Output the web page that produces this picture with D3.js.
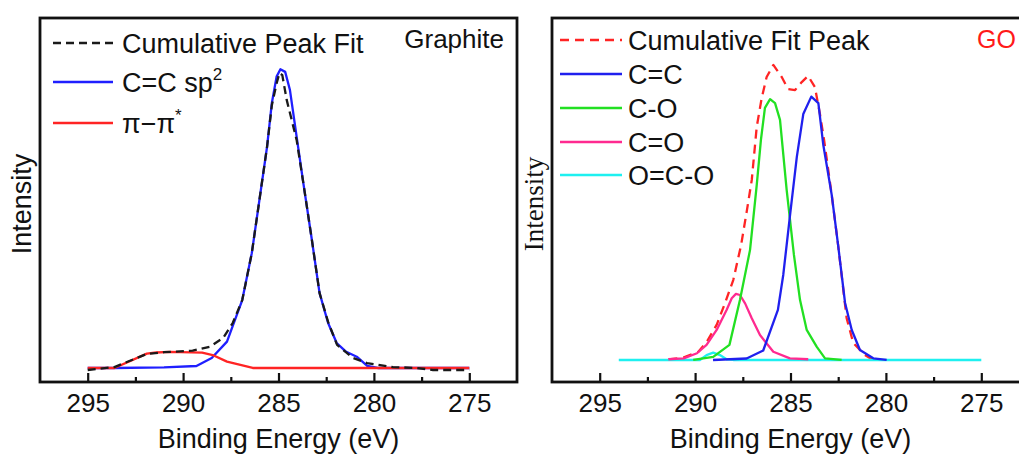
<!DOCTYPE html>
<html>
<head>
<meta charset="utf-8">
<script src="https://cdn.jsdelivr.net/npm/d3@7"></script>
<style>
  html, body { margin: 0; padding: 0; background: #fff; }
  svg { display: block; }
</style>
</head>
<body>
<div id="chart-xps"></div>
<script>
// ═══════════════════════════════════════════════
// XPS C1s fits — Graphite vs GO
// values, intensity in a.u.
// ═══════════════════════════════════════════════

// ── Axis ticks ───────────────────────────────
const MAJOR_TICKS = [295, 290, 285, 280, 275];
const MINOR_TICKS = [292.5, 287.5, 282.5, 277.5];

// ── Graphite panel [binding energy, intensity] ──
const GRAPHITE_CUMULATIVE = [
  [295.0,3.3],[293.6,4.1],[291.9,7.7],[291.0,8.2],[289.5,8.6],[288.6,9.7],
  [287.9,12.1],[287.4,16.2],[286.9,22.5],[286.4,35.4],[286.0,50.0],[285.6,64.6],
  [285.35,76.0],[285.1,82.0],[284.95,84.9],[284.8,84.3],[284.57,77.5],[284.05,66.5],
  [283.7,54.7],[283.25,39.0],[282.85,24.5],[282.4,16.5],[281.93,10.2],[281.1,6.6],
  [280.36,5.2],[279.0,4.1],[277.74,3.85],[276.9,3.3],[275.0,3.3]
];
const GRAPHITE_SP2 = [
  [295.0,3.85],[293.6,3.85],[291.0,4.0],[289.3,4.4],[288.5,6.6],[287.7,11.1],
  [286.9,22.5],[286.4,35.4],[286.0,50.0],[285.6,64.6],[285.35,76.6],[285.1,83.9],
  [284.9,85.9],[284.65,85.2],[284.4,80.2],[284.05,67.4],[283.7,54.7],[283.25,39.0],
  [282.85,24.5],[282.4,16.2],[281.95,10.7],[281.45,8.3],[280.9,6.95],[280.35,4.4],
  [279.8,3.85],[275.0,3.85]
];
const GRAPHITE_PIPI = [
  [295.0,3.85],[293.6,3.85],[291.9,7.8],[291.4,8.1],[290.7,8.25],[289.0,8.05],
  [288.45,7.4],[287.7,5.6],[286.35,3.85],[275.0,3.85]
];

// ── GO panel [binding energy, intensity] ─────
const GO_CUMULATIVE = [
  [291.4,6.2],[290.62,6.7],[289.83,8.3],[289.39,11.0],[288.87,15.7],[288.43,21.7],
  [288.0,28.0],[287.59,37.6],[287.28,47.3],[287.03,55.5],[286.77,70.1],[286.51,78.0],
  [286.25,83.8],[285.9,87.1],[285.46,83.8],[285.13,80.5],[284.76,80.2],[284.41,82.4],
  [284.08,84.1],[283.72,81.0],[283.45,73.4],[283.24,66.5],[282.84,51.4],[282.5,37.4],
  [282.06,17.6],[281.71,10.7],[281.1,7.4],[280.68,6.05]
];
const GO_CC = [
  [289.06,6.05],[287.3,6.45],[286.43,8.65],[285.66,19.8],[285.38,29.4],[285.03,45.6],
  [284.67,61.8],[284.33,73.6],[283.91,78.4],[283.54,76.6],[283.28,65.1],[282.84,51.4],
  [282.5,37.4],[282.14,21.7],[281.79,14.3],[281.36,8.8],[280.66,6.5],[279.96,6.05]
];
const GO_CO = [
  [290.1,6.05],[289.05,6.9],[288.2,10.2],[287.65,22.5],[287.12,36.3],[286.77,54.1],
  [286.55,66.5],[286.34,75.3],[286.07,77.7],[285.81,76.6],[285.55,72.0],[285.2,52.7],
  [284.82,34.9],[284.5,22.5],[284.15,14.3],[283.63,9.7],[283.19,6.5],[282.32,6.05]
];
const GO_C_DOUBLE_O = [
  [291.4,6.25],[290.6,6.5],[289.9,7.9],[289.4,10.2],[288.87,14.3],[288.35,19.8],
  [288.08,23.0],[287.86,24.2],[287.65,23.9],[287.38,21.6],[287.03,17.5],[286.6,12.9],
  [285.9,8.3],[285.03,6.5],[284.07,6.25]
];
const GO_OCO = [
  [294.0,6.05],[289.75,6.05],[289.4,7.4],[289.05,8.05],[288.7,7.4],[288.35,6.25],
  [288.0,6.05],[275.0,6.05]
];

const FONT = "'Liberation Sans', Arial, sans-serif";

const PANELS = [
  {
    left: 40, tag: "Graphite", tagColor: "#111", tagSize: 26, yFont: FONT,
    legendY: [43, 82, 123],
    series: [
      { name: "Cumulative Peak Fit", data: GRAPHITE_CUMULATIVE, color: "#1a1a1a", dash: "8,5" },
      { name: "C=C sp", sup: "2", data: GRAPHITE_SP2, color: "#1f1fff" },
      { name: "π−π", sup: "*", data: GRAPHITE_PIPI, color: "#ff2424" }
    ],
    drawOrder: [1, 2, 0],
    legendX: [53, 113, 122]
  },
  {
    left: 552, tag: "GO", tagColor: "#ff1a1a", tagSize: 25,
    yFont: "'Liberation Serif', 'Times New Roman', serif",
    legendY: [40, 74, 108, 142, 175],
    series: [
      { name: "Cumulative Fit Peak", data: GO_CUMULATIVE, color: "#ff2424", dash: "9,6" },
      { name: "C=C", data: GO_CC, color: "#2020ee" },
      { name: "C-O", data: GO_CO, color: "#22e022" },
      { name: "C=O", data: GO_C_DOUBLE_O, color: "#ff2a90" },
      { name: "O=C-O", data: GO_OCO, color: "#1ef0f0" }
    ],
    drawOrder: [0, 4, 3, 2, 1],
    legendX: [560, 622, 628]
  }
];

// ── Layout ───────────────────────────────────
const W = 1019, H = 455;
const frameW = 477, frameTop = 18, frameH = 364;

const svg = d3.select("#chart-xps").append("svg")
  .attr("width", W).attr("height", H);

PANELS.forEach(p => {
  const g = svg.append("g").attr("transform", `translate(${p.left},${frameTop})`);

  const x = d3.scaleLinear().domain([297.5, 272.5]).range([0, frameW]);
  const y = d3.scaleLinear().domain([0, 100]).range([frameH, 0]);

  const line = d3.line().x(d => x(d[0])).y(d => y(d[1]));

  // curves
  p.drawOrder.forEach(i => {
    const s = p.series[i];
    g.append("path").datum(s.data)
      .attr("d", line)
      .attr("fill", "none")
      .attr("stroke", s.color)
      .attr("stroke-width", 2.3)
      .attr("stroke-linejoin", "round")
      .attr("stroke-dasharray", s.dash || null);
  });

  // frame
  g.append("rect").attr("x", 0).attr("y", 0)
    .attr("width", frameW).attr("height", frameH)
    .attr("fill", "none").attr("stroke", "#111").attr("stroke-width", 2.8);

  // bottom axis, ticks pointing inward
  const xAxis = g.append("g").attr("transform", `translate(0,${frameH})`)
    .call(d3.axisBottom(x).tickValues(MAJOR_TICKS).tickSize(-9).tickPadding(12).tickFormat(d3.format("d")));
  xAxis.select(".domain").remove();
  xAxis.selectAll(".tick line").attr("stroke", "#111").attr("stroke-width", 2.2);
  xAxis.selectAll("text").attr("font-family", FONT).attr("font-size", "26px").attr("fill", "#111");

  const xMinor = g.append("g").attr("transform", `translate(0,${frameH})`)
    .call(d3.axisBottom(x).tickValues(MINOR_TICKS).tickSize(-5).tickFormat(""));
  xMinor.select(".domain").remove();
  xMinor.selectAll(".tick line").attr("stroke", "#111").attr("stroke-width", 2.2);

  // axis titles
  g.append("text").attr("x", x(285)).attr("y", 430)
    .attr("text-anchor", "middle").attr("font-family", FONT)
    .attr("font-size", "27px").attr("fill", "#111")
    .text("Binding Energy (eV)");

  g.append("text").attr("transform", "rotate(-90)")
    .attr("x", -(204 - frameTop)).attr("y", -9)
    .attr("text-anchor", "middle").attr("font-family", p.yFont)
    .attr("font-size", "27px").attr("fill", "#111")
    .text("Intensity");

  // sample tag
  g.append("text").attr("x", frameW - 13).attr("y", 48 - frameTop)
    .attr("text-anchor", "end").attr("font-family", FONT)
    .attr("font-size", p.tagSize + "px").attr("fill", p.tagColor)
    .text(p.tag);

  // legend
  const [lx0, lx1, tx] = p.legendX;
  p.series.forEach((s, i) => {
    const ly = p.legendY[i];
    svg.append("line")
      .attr("x1", lx0).attr("x2", lx1).attr("y1", ly).attr("y2", ly)
      .attr("stroke", s.color).attr("stroke-width", 2.3)
      .attr("stroke-dasharray", s.dash || null);
    const t = svg.append("text").attr("x", tx).attr("y", ly + 9.5)
      .attr("font-family", FONT).attr("font-size", "27px").attr("fill", "#111");
    t.append("tspan").text(s.name);
    if (s.sup) {
      t.append("tspan").attr("dy", -12).attr("font-size", "17px").text(s.sup);
    }
  });
});
</script>
</body>
</html>
